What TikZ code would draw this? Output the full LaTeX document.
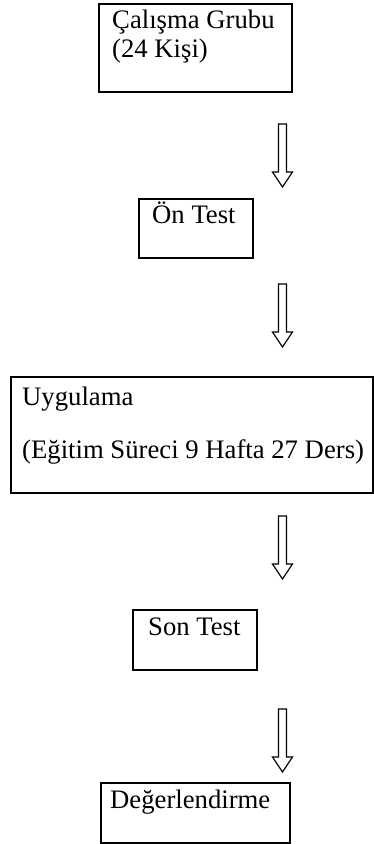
\documentclass[tikz,border=0pt]{standalone}
\usepackage{fontspec}
\setmainfont{Liberation Serif}
\begin{document}
\begin{tikzpicture}[x=1pt,y=-1pt,
  boxnode/.style={draw=black, line width=2pt, inner sep=0pt, anchor=north west},
  txt/.style={inner sep=0pt, anchor=base west, font=\fontsize{26.7}{30}\selectfont},
  hollowarrow/.style={draw=black, line width=1.2pt, line join=miter, fill=white}]
\useasboundingbox (0,0) rectangle (373,844);
% boxes
\node[boxnode, minimum width=193pt, minimum height=88pt] (b1) at (98,3) {};
\node[boxnode, minimum width=114pt, minimum height=59pt] (b2) at (138,198) {};
\node[boxnode, minimum width=362pt, minimum height=116pt] (b3) at (10,376) {};
\node[boxnode, minimum width=124pt, minimum height=60pt] (b4) at (132,609) {};
\node[boxnode, minimum width=189pt, minimum height=60pt] (b5) at (100,782) {};
% texts
\node[txt] (t1a) at (112,28) {Çalışma Grubu};
\node[txt] (t1b) at (112,57) {(24 Kişi)};
\node[txt] (t2) at (152,223) {Ön Test};
\node[txt] (t3a) at (22,405) {Uygulama};
\node[txt] (t3b) at (22,458) {(Eğitim Süreci 9 Hafta 27 Ders)};
\node[txt] (t4) at (148,635) {Son Test};
\node[txt] (t5) at (110,808) {Değerlendirme};
% hollow block arrows
\coordinate (a1) at (282.5,124);
\coordinate (a2) at (282.5,284);
\coordinate (a3) at (282.5,516);
\coordinate (a4) at (282.5,709);
\foreach \a in {a1,a2,a3,a4}{
  \draw[hollowarrow] (\a) ++(-4,0) -- ++(8,0) -- ++(0,48) -- ++(6,0) -- ++(-10,15) -- ++(-10,-15) -- ++(6,0) -- cycle;
}
\end{tikzpicture}
\end{document}
